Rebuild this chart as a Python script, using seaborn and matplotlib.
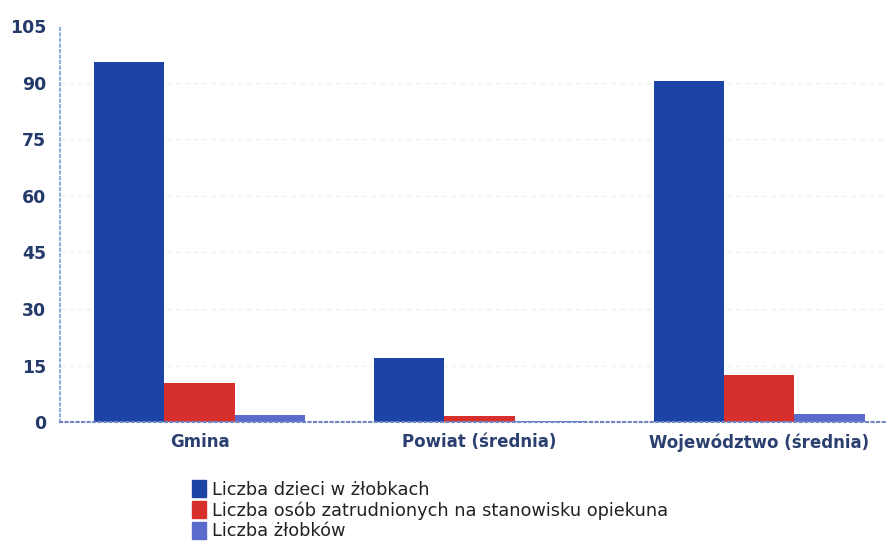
import numpy as np
import pandas as pd
import matplotlib
matplotlib.use("Agg")
import matplotlib.pyplot as plt
import seaborn as sns

regions = ["Gmina", "Powiat (średnia)", "Województwo (średnia)"]
series = ["Liczba dzieci w żłobkach",
          "Liczba osób zatrudnionych na stanowisku opiekuna",
          "Liczba żłobków"]
dzieci = [95.5, 17.0, 90.5]
opiekunowie = [10.5, 1.6, 12.5]
zlobki = [2.0, 0.4, 2.1]
yticks = [0, 15, 30, 45, 60, 75, 90, 105]

colors = ["#1c43a6", "#d7302c", "#5a6bcc"]
navy = "#233a6b"

rows = []
for s, vals in zip(series, [dzieci, opiekunowie, zlobki]):
    for r, v in zip(regions, vals):
        rows.append({"region": r, "series": s, "value": v})
df = pd.DataFrame(rows)

sns.set_style("white")
plt.rcParams["font.family"] = ["DejaVu Sans"]

fig = plt.figure(figsize=(8.93, 5.42), dpi=100)
ax = fig.add_axes([0.067, 0.221, 0.924, 0.731])

sns.barplot(data=df, x="region", y="value", hue="series", palette=colors,
            width=0.755, saturation=1, linewidth=0, ax=ax, legend=True)

ax.set_ylim(0, 105)
ax.set_xlim(-0.5, 2.45)
ax.set_yticks(yticks)
ax.set_yticklabels([str(t) for t in yticks], fontsize=12.5, fontweight="bold", color=navy)
ax.tick_params(axis="x", length=0, pad=8)
ax.tick_params(axis="y", length=0, pad=10)
for lab in ax.get_xticklabels():
    lab.set_color("#2b4070")
    lab.set_fontsize(12)
    lab.set_fontweight("bold")
ax.set_xlabel("")
ax.set_ylabel("")

for t in yticks[1:-1]:
    ax.axhline(t, color="#eeeeee", lw=0.8, ls=(0, (4, 4)), zorder=0)

for sp in ["top", "right"]:
    ax.spines[sp].set_visible(False)
ax.spines["left"].set_color("#8fb0dc")
ax.spines["left"].set_linestyle(":")
ax.spines["left"].set_linewidth(1.5)
ax.spines["bottom"].set_color("#6f86c0")
ax.spines["bottom"].set_linestyle(":")
ax.spines["bottom"].set_linewidth(1.5)

ax.get_legend().remove()
handles = [plt.Rectangle((0, 0), 1, 1, color=c) for c in colors]
fig.legend(handles, series, loc="upper left", bbox_to_anchor=(0.205, 0.13),
           frameon=False, fontsize=12.8, handlelength=0.8, handleheight=1.1,
           handletextpad=0.3, labelspacing=0.12, borderpad=0,
           labelcolor="#222222")

fig.savefig("out.png", dpi=100)
